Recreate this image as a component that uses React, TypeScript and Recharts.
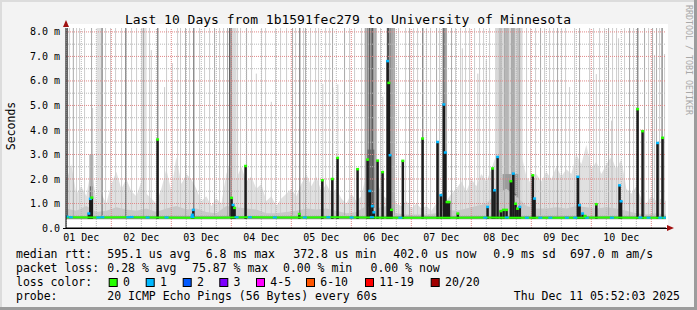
import React from 'react';
import { ComposedChart, XAxis, YAxis, Area, Line, Scatter, ReferenceLine, ReferenceArea } from 'recharts';

// time axis in hours since 01 Dec 00:00
const T_START = 5.87;
const T_END = 245.87;
const Y_MAX = 8.16;
const BASE = 0.37;

const dayTicks = [12, 36, 60, 84, 108, 132, 156, 180, 204, 228];
const dayLabels = ['01 Dec', '02 Dec', '03 Dec', '04 Dec', '05 Dec', '06 Dec', '07 Dec', '08 Dec', '09 Dec', '10 Dec'];
const yTicks = [0, 1, 2, 3, 4, 5, 6, 7, 8];
const yLabels = ['0.0', '1.0 m', '2.0 m', '3.0 m', '4.0 m', '5.0 m', '6.0 m', '7.0 m', '8.0 m'];

const majorGridX = [24, 48, 72, 96, 120, 144, 168, 192, 216, 240];
const minorGridX = [6, 12, 18, 30, 36, 42, 54, 60, 66, 78, 84, 90, 102, 108, 114, 126, 132, 138, 150, 156, 162, 174, 180, 186, 198, 204, 210, 222, 228, 234, 246];
const majorGridY = [1, 2, 3, 4, 5, 6, 7, 8];
const minorGridY = [0.5, 1.5, 2.5, 3.5, 4.5, 5.5, 6.5, 7.5];

// light smoke top, 2h steps [t, ms]
const hazeLight: [number, number][] = [
  [6, 1.9], [8, 2.6], [10, 1.4], [12, 1.7], [14, 1.3], [16, 2.5], [18, 1.1], [20, 1.4], [22, 1.0], [24, 1.8],
  [26, 2.3], [28, 1.6], [30, 2.0], [32, 1.5], [34, 1.3], [36, 1.9], [38, 1.4], [40, 1.2], [42, 1.0], [44, 1.6],
  [46, 2.4], [48, 1.5], [50, 2.9], [52, 1.8], [54, 2.2], [56, 2.0], [58, 1.6], [60, 1.1], [62, 1.3], [64, 0.9],
  [66, 1.2], [68, 1.0], [70, 2.2], [72, 2.8], [74, 2.0], [76, 2.5], [78, 1.9], [80, 2.1], [82, 1.6], [84, 1.8],
  [86, 1.1], [88, 1.3], [90, 0.9], [92, 1.2], [94, 1.4], [96, 1.6], [98, 1.3], [100, 1.8], [102, 2.2], [104, 1.7],
  [106, 2.1], [108, 1.5], [110, 1.8], [112, 1.4], [114, 1.6], [116, 1.2], [118, 1.0], [120, 1.4], [122, 1.1], [124, 1.3],
  [126, 2.2], [128, 1.8], [130, 2.0], [132, 1.4], [134, 1.2], [136, 1.6], [138, 1.0], [140, 0.9], [142, 1.1], [144, 0.8],
  [146, 1.0], [148, 0.8], [150, 0.9], [152, 0.7], [154, 1.0], [156, 1.3], [158, 1.1], [160, 1.4], [162, 1.6], [164, 1.9],
  [166, 1.5], [168, 2.0], [170, 1.7], [172, 2.2], [174, 1.9], [176, 2.4], [178, 3.0], [180, 3.5], [182, 3.2], [184, 3.8],
  [186, 3.4], [188, 3.0], [190, 2.1], [192, 1.8], [194, 2.2], [196, 1.9], [198, 2.3], [200, 2.0], [202, 2.5], [204, 2.1],
  [206, 2.4], [208, 2.2], [210, 3.0], [212, 2.6], [214, 3.4], [216, 2.4], [218, 2.7], [220, 2.2], [222, 2.6], [224, 2.9],
  [226, 2.4], [228, 2.8], [230, 1.6], [232, 1.4], [234, 1.7], [236, 1.2], [238, 1.0], [240, 1.3], [242, 1.1], [244, 1.2],
  [246, 1.1],
];

// denser smoke near the base, 4h steps
const hazeMid: [number, number][] = [
  [6, 0.8], [10, 0.7], [14, 0.9], [18, 0.65], [22, 0.7], [26, 0.85], [30, 0.75], [34, 0.7], [38, 0.8], [42, 0.65],
  [46, 0.8], [50, 0.9], [54, 0.75], [58, 0.8], [62, 0.65], [66, 0.6], [70, 0.9], [74, 0.85], [78, 0.8], [82, 0.75],
  [86, 0.6], [90, 0.6], [94, 0.65], [98, 0.7], [102, 0.8], [106, 0.75], [110, 0.8], [114, 0.7], [118, 0.6], [122, 0.65],
  [126, 0.9], [130, 0.8], [134, 0.9], [138, 0.6], [142, 0.55], [146, 0.55], [150, 0.55], [154, 0.6], [158, 0.75], [162, 0.7],
  [166, 0.8], [170, 0.9], [174, 1.0], [178, 1.4], [182, 1.6], [186, 1.3], [190, 0.9], [194, 0.8], [198, 0.8], [202, 0.85],
  [206, 0.8], [210, 0.9], [214, 0.85], [218, 0.8], [222, 0.85], [226, 0.8], [230, 0.7], [234, 0.6], [238, 0.55], [242, 0.6],
  [246, 0.55],
];

// median rtt, 12h steps
const medianLine: [number, number][] = [
  [6, 0.44], [18, 0.43], [30, 0.44], [42, 0.43], [54, 0.42], [66, 0.42], [78, 0.44], [90, 0.43], [102, 0.43],
  [114, 0.44], [126, 0.43], [138, 0.42], [150, 0.42], [162, 0.42], [174, 0.43], [186, 0.42], [198, 0.42],
  [210, 0.42], [222, 0.43], [234, 0.42], [246, 0.42],
];

// median segments with 1/20 loss on the base line
const blueMarks: [number, number][] = [
  [6.1, 0.47], [7.8, 0.44], [18.8, 0.43], [20.4, 0.44], [30.8, 0.44], [32.1, 0.45], [38.5, 0.43], [46.1, 0.43],
  [56.4, 0.45], [74.1, 0.44], [79.4, 0.44], [89.4, 0.43], [101.4, 0.43], [110.8, 0.44], [120.1, 0.43],
  [128.2, 0.44], [139.6, 0.42], [173.6, 0.42], [182.2, 0.43], [190.2, 0.42], [195.6, 0.42], [199.6, 0.42],
  [206.2, 0.42], [209.6, 0.42], [214.2, 0.42], [224.2, 0.42], [235.6, 0.43], [238.9, 0.42], [243.6, 0.42], [245.6, 0.42],
];

// median spikes [t, ms, loss colour]
const spikes: [number, number, string][] = [
  [15.0, 0.6, 'b'], [15.6, 1.2, 'b'], [16.2, 1.25, 'g'],
  [42.5, 3.62, 'g'],
  [56.4, 0.55, 'b'], [56.8, 0.75, 'b'],
  [72.1, 1.24, 'g'], [72.7, 0.95, 'b'], [73.3, 0.83, 'g'],
  [77.7, 2.54, 'g'],
  [99.2, 0.58, 'g'],
  [108.4, 1.96, 'g'], [112.4, 2.01, 'g'], [114.5, 2.87, 'g'], [122.5, 2.41, 'g'],
  [126.5, 2.8, 'g'], [127.4, 1.52, 'b'], [128.4, 0.9, 'b'], [129.0, 0.65, 'b'],
  [130.5, 2.76, 'g'], [132.5, 2.29, 'g'],
  [134.5, 6.82, 'b'], [135.0, 5.93, 'g'], [135.5, 2.98, 'b'], [136.1, 0.75, 'g'],
  [140.6, 2.75, 'g'], [148.5, 3.66, 'g'], [154.5, 3.52, 'b'],
  [155.8, 1.35, 'b'], [157.0, 5.05, 'b'], [157.6, 3.09, 'b'], [158.3, 1.07, 'g'], [159.1, 1.07, 'g'],
  [162.6, 0.6, 'g'],
  [174.5, 0.87, 'b'], [176.5, 2.44, 'g'], [177.3, 1.55, 'b'], [178.5, 2.91, 'b'],
  [179.8, 0.7, 'g'], [180.9, 0.75, 'g'], [182.1, 0.75, 'g'],
  [183.8, 1.92, 'g'], [184.8, 2.23, 'b'], [185.7, 1.0, 'g'], [186.5, 0.8, 'g'], [187.4, 0.87, 'b'],
  [192.6, 2.16, 'g'], [193.3, 1.21, 'b'],
  [210.6, 2.1, 'b'], [211.3, 0.94, 'b'], [212.5, 0.6, 'b'], [213.5, 0.5, 'g'],
  [218.0, 0.98, 'g'],
  [227.3, 1.75, 'b'], [227.9, 1.1, 'b'],
  [234.5, 4.86, 'g'], [236.5, 3.96, 'g'], [242.5, 3.48, 'b'], [244.5, 3.69, 'g'],
];

// single pings far above the median [t, ms]
const pingsLight: [number, number][] = [
  [7.3, 8.16], [10.1, 8.16], [11.3, 8.16], [13.3, 8.16], [16.5, 4.9], [18.5, 8.16], [21.7, 8.16], [23.7, 8.16],
  [25.7, 8.16], [28.1, 8.16], [32.1, 8.16], [34.1, 8.16], [36.1, 8.16], [37.7, 8.16], [39.3, 8.16], [40.0, 7.26],
  [45.3, 5.75], [46.1, 8.16], [48.4, 6.73], [50.5, 8.16], [51.7, 8.16], [55.3, 8.16], [59.3, 8.16], [61.3, 8.16],
  [63.3, 8.16], [67.3, 8.16], [68.9, 8.16], [72.6, 7.26], [74.5, 8.16], [75.7, 8.16], [80.1, 8.16], [82.0, 6.3],
  [84.1, 8.16], [85.7, 8.16], [88.0, 5.15], [89.7, 8.16], [91.7, 8.16], [94.1, 8.16], [97.7, 8.16], [100.9, 8.16],
  [103.7, 8.16], [105.7, 8.16], [106.9, 8.16], [108.6, 5.88], [109.7, 8.16], [111.3, 8.16], [112.6, 5.73], [114.6, 5.86],
  [119.3, 8.16], [121.3, 8.16], [124.1, 8.16], [131.7, 8.16], [132.6, 5.36], [138.9, 8.16], [141.7, 8.16], [144.9, 8.16],
  [146.5, 8.16], [150.1, 8.16], [151.7, 8.16], [155.3, 8.16], [161.7, 8.16], [163.7, 8.16], [164.4, 7.33], [165.7, 8.16],
  [167.3, 8.16], [169.3, 8.16], [170.6, 6.3], [171.3, 8.16], [172.9, 8.16], [174.0, 6.85], [175.3, 8.16], [190.1, 8.16],
  [191.7, 8.16], [193.7, 8.16], [197.3, 8.16], [199.3, 8.16], [200.9, 8.16], [204.1, 8.16], [205.7, 8.16], [207.3, 5.75],
  [209.3, 8.16], [215.3, 8.16], [216.9, 8.16], [218.0, 6.28], [219.3, 8.16], [221.3, 8.16], [224.1, 4.38], [224.5, 8.16],
  [226.1, 8.16], [226.9, 7.74], [229.3, 8.16], [232.9, 8.16], [238.9, 8.16], [241.3, 7.06], [243.3, 8.16], [245.3, 7.1],
];

const pingsMid: number[] = [
  8.8, 16.1, 36.9, 53.7, 65.3, 70.5, 78.1, 96.5, 101.7, 112.5, 117.3, 125.7, 129.7, 136.1, 137.3, 143.3,
  154.1, 158.1, 160.1, 181.3, 184.1, 187.3, 195.7, 202.5, 211.3, 222.9, 231.3, 237.3, 240.5, 242.1,
];

const pingsDark: number[] = [
  6.5, 20.3, 29.8, 42.6, 57.0, 71.3, 71.9, 99.4, 127.3, 128.5, 134.7, 148.6, 157.0, 234.6, 244.3,
];

// smoke columns [from, to, top ms, colour]
const smokeColumns: [number, number, number, string][] = [
  [18.1, 20.1, 8.16, '#e0e0e0'],
  [36.1, 38.1, 8.16, '#e0e0e0'],
  [71.3, 74.1, 8.16, '#dadada'],
  [15.2, 16.8, 3.0, '#b4b4b4'],
  [15.4, 16.4, 1.7, '#6a6a6a'],
  [125.3, 126.2, 8.16, '#bcbcbc'],
  [126.2, 127.0, 8.16, '#8e8e8e'],
  [127.0, 127.6, 8.16, '#acacac'],
  [127.6, 128.4, 8.16, '#7e7e7e'],
  [128.4, 129.4, 8.16, '#a0a0a0'],
  [129.4, 130.3, 8.16, '#c6c6c6'],
  [126.4, 129.2, 3.2, '#6c6c6c'],
  [135.2, 137.4, 8.16, '#b0b0b0'],
  [135.4, 136.4, 8.16, '#8e8e8e'],
  [134.2, 135.2, 8.16, '#4e4e4e'],
  [156.4, 158.0, 8.16, '#a4a4a4'],
  [177.5, 188.5, 8.16, '#d8d8d8'],
  [179.0, 180.2, 8.16, '#c0c0c0'],
  [181.5, 183.0, 8.16, '#b6b6b6'],
  [184.2, 185.4, 8.16, '#acacac'],
  [186.2, 187.2, 8.16, '#c2c2c2'],
  [180.5, 186.8, 2.2, '#9c9c9c'],
  [182.4, 186.0, 1.4, '#707070'],
];

const lossColors = [
  { label: '0', color: '#26ff00' },
  { label: '1', color: '#00b8ff' },
  { label: '2', color: '#0059ff' },
  { label: '3', color: '#7e00ff' },
  { label: '4-5', color: '#ff00ff' },
  { label: '6-10', color: '#ff5500' },
  { label: '11-19', color: '#ff0000' },
  { label: '20/20', color: '#a10000' },
];
const lossBoxX = [108.7, 145.7, 182.7, 219.3, 256, 306, 365, 430.7];

const rttLegend: [string, number][] = [
  ['median rtt:', 16], ['595.1 us avg', 107.3], ['6.8 ms max', 205.7], ['372.8 us min', 293.3],
  ['402.0 us now', 393.3], ['0.9 ms sd', 493.3], ['697.0 m am/s', 570],
];
const lossLegend: [string, number][] = [
  ['packet loss:', 16], ['0.28 % avg', 107.3], ['75.87 % max', 192], ['0.00 % min', 283], ['0.00 % now', 370.5],
];

const LOSS_HEX: Record<string, string> = { g: '#26ff00', b: '#00b8ff' };
const mono = '"DejaVu Sans Mono", monospace';

export default function App() {
  const lightData = hazeLight.map(([t, v]) => ({ t, v }));
  const midData = hazeMid.map(([t, v]) => ({ t, v }));
  const medData = medianLine.map(([t, v]) => ({ t, v }));
  const blueData = blueMarks.map(([t, v]) => ({ t, v }));
  const topData = spikes.map(([t, v, c]) => ({ t, v, c }));

  return (
    <div
      style={{
        position: 'absolute', left: 0, top: 0, width: 697, height: 310, background: '#f3f3f3',
        boxShadow: 'inset -3px -3px 0 #9c9c9c, inset 2px 2px 0 #dcdcdc', overflow: 'hidden',
      }}
    >
      <div style={{ position: 'absolute', left: 66, top: 24, width: 602, height: 204, background: '#fff' }} />
      <div style={{ position: 'absolute', left: 0, top: 0 }}>
        <ComposedChart width={697} height={310} data={lightData} margin={{ top: 28, right: 31, bottom: 62, left: 16 }}>
          <Area dataKey="v" type="linear" baseValue={BASE} fill="#e0e0e0" fillOpacity={1} stroke="none" isAnimationActive={false} zIndex={2} />
          {pingsLight.map(([t, v], i) => (
            <ReferenceLine key={`pl${i}`} segment={[{ x: t, y: BASE }, { x: t, y: v }]} stroke="#cdcdcd" strokeWidth={1} zIndex={3} />
          ))}
          {smokeColumns.map(([a, b, top, c], i) => (
            <ReferenceArea key={`sc${i}`} x1={a} x2={b} y1={BASE} y2={top} fill={c} fillOpacity={1} stroke="none" zIndex={4} />
          ))}
          <Area data={midData} dataKey="v" type="linear" baseValue={BASE} fill="#c8c8c8" fillOpacity={1} stroke="none" isAnimationActive={false} zIndex={5} />
          {pingsMid.map((t, i) => (
            <ReferenceLine key={`pm${i}`} segment={[{ x: t, y: BASE }, { x: t, y: Y_MAX }]} stroke="#a8a8a8" strokeWidth={1} zIndex={6} />
          ))}
          {pingsDark.map((t, i) => (
            <ReferenceLine key={`pd${i}`} segment={[{ x: t, y: BASE }, { x: t, y: Y_MAX }]} stroke="#5a5a5a" strokeWidth={1} zIndex={8} />
          ))}
          <ReferenceArea x1={T_START} x2={T_END} y1={0.36} y2={0.48} fill="#8c8c8c" fillOpacity={1} stroke="none" zIndex={9} />
          {minorGridX.map((t) => (
            <ReferenceLine key={`gx${t}`} x={t} stroke="#b8b8b8" strokeDasharray="1 1" zIndex={10} />
          ))}
          {minorGridY.map((v) => (
            <ReferenceLine key={`gy${v}`} y={v} stroke="#b8b8b8" strokeDasharray="1 1" zIndex={10} />
          ))}
          {majorGridX.map((t) => (
            <ReferenceLine key={`mx${t}`} x={t} stroke="#e08888" strokeDasharray="1 1" zIndex={10} />
          ))}
          {majorGridY.map((v) => (
            <ReferenceLine key={`my${v}`} y={v} stroke="#e08888" strokeDasharray="1 1" zIndex={10} />
          ))}
          {spikes.map(([t, v], i) => (
            <ReferenceLine key={`sp${i}`} segment={[{ x: t, y: BASE }, { x: t, y: v }]} stroke="#1c1c1c" strokeWidth={2.5} zIndex={11} />
          ))}
          <Line data={medData} dataKey="v" type="linear" stroke="#26ff00" strokeWidth={2} dot={false} isAnimationActive={false} zIndex={12} />
          <Scatter
            data={blueData}
            dataKey="v"
            isAnimationActive={false}
            zIndex={13}
            shape={(p: any) => <rect x={p.cx - 2} y={p.cy - 1} width={4} height={2} fill="#00b8ff" />}
          />
          <Scatter
            data={topData}
            dataKey="v"
            isAnimationActive={false}
            zIndex={14}
            shape={(p: any) => <rect x={p.cx - 1.5} y={p.cy - 1} width={3} height={2.5} fill={LOSS_HEX[p.payload.c]} />}
          />
          <XAxis
            type="number"
            dataKey="t"
            domain={[T_START, T_END]}
            allowDataOverflow
            ticks={dayTicks}
            interval={0}
            tickFormatter={(v: number) => dayLabels[dayTicks.indexOf(v)]}
            tickLine={false}
            tickSize={0}
            tickMargin={6}
            height={20}
            axisLine={{ stroke: '#000' }}
            tick={{ fontFamily: mono, fontSize: 10, fill: '#000' }}
          />
          <YAxis
            type="number"
            domain={[0, Y_MAX]}
            allowDataOverflow
            ticks={yTicks}
            interval={0}
            tickFormatter={(v: number) => yLabels[yTicks.indexOf(v)]}
            tickLine={false}
            tickSize={0}
            tickMargin={6}
            width={50}
            axisLine={{ stroke: '#000' }}
            tick={{ fontFamily: mono, fontSize: 10, fill: '#000' }}
          />
        </ComposedChart>
      </div>
      <svg width={697} height={310} style={{ position: 'absolute', left: 0, top: 0, pointerEvents: 'none' }}>
        <polygon points="63,27 69,27 66,20" fill="#a01010" />
        <polygon points="667,225 667,231 674,228" fill="#a01010" />
        <line x1={63} y1={228.5} x2={667} y2={228.5} stroke="#000" strokeWidth={1} />
        <text x={348} y={23.5} textAnchor="middle" fontFamily={mono} fontSize={13} fill="#000">
          Last 10 Days from 1b1591fec279 to University of Minnesota
        </text>
        <text x={15} y={126} transform="rotate(-90 15 126)" textAnchor="middle" fontFamily={mono} fontSize={11.5} fill="#000">
          Seconds
        </text>
        <text x={686} y={5} transform="rotate(90 686 5)" fontFamily={mono} fontSize={8.3} fill="#a8a8a8">
          RRDTOOL / TOBI OETIKER
        </text>
        {rttLegend.map(([s, x]) => (
          <text key={s} x={x} y={258.3} fontFamily={mono} fontSize={11.5} fill="#000">{s}</text>
        ))}
        {lossLegend.map(([s, x], i) => (
          <text key={`l${i}`} x={x} y={272.3} fontFamily={mono} fontSize={11.5} fill="#000">{s}</text>
        ))}
        <text x={16} y={286.3} fontFamily={mono} fontSize={11.5} fill="#000">loss color:</text>
        {lossColors.map((c, i) => (
          <g key={c.label}>
            <rect x={lossBoxX[i] + 0.5} y={278.5} width={8} height={8} fill={c.color} stroke="#000" strokeWidth={1} />
            <text x={lossBoxX[i] + 14.3} y={286.3} fontFamily={mono} fontSize={11.5} fill="#000">{c.label}</text>
          </g>
        ))}
        <text x={16} y={300.3} fontFamily={mono} fontSize={11.5} fill="#000">probe:</text>
        <text x={107.3} y={300.3} fontFamily={mono} fontSize={11.5} fill="#000">20 ICMP Echo Pings (56 Bytes) every 60s</text>
        <text x={680} y={300.3} textAnchor="end" fontFamily={mono} fontSize={11.5} fill="#000">Thu Dec 11 05:52:03 2025</text>
      </svg>
    </div>
  );
}
